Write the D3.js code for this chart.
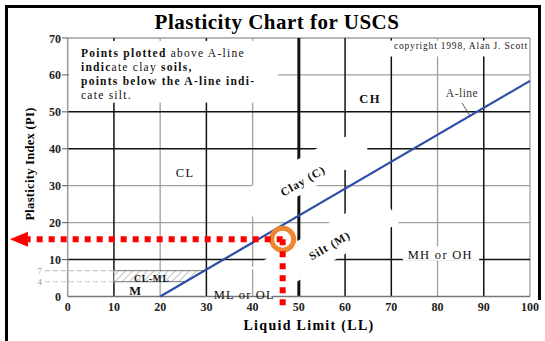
<!DOCTYPE html>
<html><head><meta charset="utf-8">
<script src="https://cdn.jsdelivr.net/npm/d3@7"></script>
<style>
html,body{margin:0;padding:0;background:#fff;}
svg{display:block;}
text{font-family:"Liberation Serif","DejaVu Serif",serif;}
</style></head>
<body>
<svg id="c" width="545" height="341"></svg>
<script>
// ---------- data ----------
const xTicks = [0,10,20,30,40,50,60,70,80,90,100];
const yTicks = [0,10,20,30,40,50,60,70];
const xGridDark = [10,30,50,60,70,90];
const xGridLight = [20,40,80,100];
const yGridDark = [10,40,50];
const yGridLight = [20,30,60,70];
const aLine = [[20,0],[100,58.4]];            // A-line PI = 0.73(LL-20)
const clmlBand = [[10,4],[25.5,4],[29.6,7],[10,7]];
const clmlLimits = [4,7];
const samplePoint = {ll:46.5, pi:15.5};
const arrowEndLL = -12.5, dropEndPI = -3;
const zoneLabels = [
  {t:"CL", ll:25.4, pi:33.2, size:12.5, w:"normal", ls:1.5, rot:0},
  {t:"CH", ll:65.4, pi:53.2, size:12.5, w:"bold", ls:1.5, rot:0},
  {t:"MH or OH", ll:80.6, pi:10.8, size:12.5, w:"normal", ls:1.3, rot:0},
  {t:"ML or OL", ll:38.2, pi:0.2, size:12.5, w:"normal", ls:1.2, rot:0},
  {t:"M", ll:14.6, pi:1.1, size:12.5, w:"bold", ls:0, rot:0},
  {t:"CL-ML", ll:18.2, pi:4.6, size:9.5, w:"bold", ls:0.8, rot:0},
  {t:"Clay (C)", ll:51, pi:31, size:11.5, w:"bold", ls:1, rot:-30},
  {t:"Silt (M)", ll:56.8, pi:13.5, size:11.5, w:"bold", ls:1, rot:-30}
];
const noteLines = [
  [["Points plotted","bold"],[" above A-line","normal"]],
  [["indic","bold"],["ate clay ","normal"],["soils,","bold"]],
  [["points below the A-line indi-","bold"]],
  [["cate silt.","normal"]]
];

// ---------- setup ----------
const svg = d3.select("#c");
const x = d3.scaleLinear().domain([0,100]).range([67.7,530]);
const y = d3.scaleLinear().domain([0,70]).range([296.5,38]);

// outer frame
svg.append("path").attr("d","M6.5,341 L6.5,6.5 L539.5,6.5 L539.5,300")
  .attr("fill","none").attr("stroke","#000").attr("stroke-width",3);

// title
svg.append("text").attr("x",277).attr("y",29).attr("text-anchor","middle")
  .attr("font-size",21).attr("font-weight","bold").attr("letter-spacing",0.5)
  .text("Plasticity Chart for USCS");

const g = svg.append("g");

// grid
g.selectAll(".vl").data(xGridLight).join("line")
  .attr("x1",d=>x(d)).attr("x2",d=>x(d)).attr("y1",y(0)).attr("y2",y(70))
  .attr("stroke","#a0a0a0").attr("stroke-width",1.3);
g.selectAll(".hl").data(yGridLight).join("line")
  .attr("y1",d=>y(d)).attr("y2",d=>y(d)).attr("x1",x(0)).attr("x2",x(100))
  .attr("stroke","#a0a0a0").attr("stroke-width",1.3);
g.selectAll(".vd").data(xGridDark).join("line")
  .attr("x1",d=>x(d)).attr("x2",d=>x(d)).attr("y1",y(0)).attr("y2",y(70))
  .attr("stroke","#111").attr("stroke-width",d=>d===50?3:1.5);
g.selectAll(".hd").data(yGridDark).join("line")
  .attr("y1",d=>y(d)).attr("y2",d=>y(d)).attr("x1",x(0)).attr("x2",x(100))
  .attr("stroke","#111").attr("stroke-width",1.5);
// axes lines
g.append("line").attr("x1",x(0)).attr("x2",x(100)).attr("y1",y(0)).attr("y2",y(0))
  .attr("stroke","#777").attr("stroke-width",1.5);
g.append("line").attr("x1",x(0)).attr("x2",x(0)).attr("y1",y(0)).attr("y2",y(70))
  .attr("stroke","#999").attr("stroke-width",1.5);

// knockouts (white areas behind labels)
function knockRect(ll0,ll1,pi0,pi1){
  g.append("rect").attr("x",x(ll0)).attr("y",y(pi1))
   .attr("width",x(ll1)-x(ll0)).attr("height",y(pi0)-y(pi1)).attr("fill","#fff");
}
function knockRot(ll,pi,w,h,rot){
  g.append("rect").attr("x",-w/2).attr("y",-h/2).attr("width",w).attr("height",h)
   .attr("fill","#fff").attr("transform",`translate(${x(ll)},${y(pi)}) rotate(${rot})`);
}
knockRect(0.3,45.5,52.5,69.2);      // note box
knockRect(67.8,99.7,65,69.3);       // copyright strip
knockRect(56.1,64.8,34.3,43.2);     // gap right of Clay
knockRect(72.5,89,9.7,13.6);        // MH or OH
knockRot(48.2,31,100,32,-30);       // Clay band
knockRot(55.7,13.9,150,35,-30);     // Silt band

// y tick labels and ticks
g.selectAll(".yt").data(yTicks).join("text")
  .attr("x",61).attr("y",d=>y(d)+4.5).attr("text-anchor","end")
  .attr("font-size",12).attr("font-weight","bold").attr("fill","#222").text(d=>d);
g.selectAll(".ytk").data(yTicks.filter(d=>d>0)).join("line")
  .attr("x1",62).attr("x2",x(0)).attr("y1",d=>y(d)).attr("y2",d=>y(d))
  .attr("stroke","#555").attr("stroke-width",1);
// x tick labels
g.selectAll(".xt").data(xTicks).join("text")
  .attr("x",d=>x(d)).attr("y",311).attr("text-anchor","middle")
  .attr("font-size",12).attr("font-weight","bold").attr("fill","#222").text(d=>d);

// CL-ML limit lines
g.selectAll(".lim").data(clmlLimits).join("line")
  .attr("x1",45).attr("x2",x(10)).attr("y1",d=>y(d)).attr("y2",d=>y(d))
  .attr("stroke","#c8c8c8").attr("stroke-width",1.2).attr("stroke-dasharray","5,3");
g.selectAll(".liml").data(clmlLimits).join("text")
  .attr("x",42).attr("y",d=>y(d)+3).attr("text-anchor","end")
  .attr("font-size",9).attr("fill","#999").text(d=>d);

// hatched CL-ML band
const defs = svg.append("defs");
const pat = defs.append("pattern").attr("id","hatch").attr("patternUnits","userSpaceOnUse")
  .attr("width",5).attr("height",5).attr("patternTransform","rotate(45)");
pat.append("rect").attr("width",5).attr("height",5).attr("fill","#fff");
pat.append("line").attr("x1",0).attr("y1",0).attr("x2",0).attr("y2",5)
  .attr("stroke","#888").attr("stroke-width",1);
g.append("path").attr("d",d3.line().x(d=>x(d[0])).y(d=>y(d[1]))(clmlBand)+"Z")
  .attr("fill","url(#hatch)").attr("stroke","#777").attr("stroke-width",1);

// A-line
g.append("path").attr("d",d3.line().x(d=>x(d[0])).y(d=>y(d[1]))(aLine))
  .attr("fill","none").attr("stroke","#2c4ea6").attr("stroke-width",2.2);
g.append("line").attr("x1",x(85.3)).attr("y1",y(52.4)).attr("x2",x(87.1)).attr("y2",y(48.7))
  .attr("stroke","#333").attr("stroke-width",0.8);
g.append("text").attr("x",x(85.3)).attr("y",y(52.4)-6).attr("text-anchor","middle")
  .attr("font-size",11.5).attr("letter-spacing",0.5).attr("fill","#333").text("A-line");

// zone labels
zoneLabels.forEach(d=>{
  g.append("text").attr("text-anchor","middle").attr("dominant-baseline","middle")
   .attr("font-size",d.size).attr("font-weight",d.w).attr("letter-spacing",d.ls)
   .attr("transform",`translate(${x(d.ll)},${y(d.pi)}) rotate(${d.rot})`)
   .attr("fill","#111").text(d.t);
});

// copyright
g.append("text").attr("x",528).attr("y",49).attr("text-anchor","end")
  .attr("font-size",9.5).attr("letter-spacing",0.8).attr("fill","#222")
  .text("copyright 1998, Alan J. Scott");

// note
const note = g.append("text").attr("font-size",11.5).attr("letter-spacing",1.25).attr("fill","#111");
noteLines.forEach((line,i)=>{
  line.forEach((seg,j)=>{
    const ts = note.append("tspan").attr("font-weight",seg[1]).text(seg[0]);
    if(j===0) ts.attr("x",81).attr("y",57+i*14);
  });
});

// axis titles
svg.append("text").attr("transform","translate(34,164) rotate(-90)").attr("text-anchor","middle")
  .attr("font-size",12.5).attr("font-weight","bold").attr("letter-spacing",0.3)
  .text("Plasticity Index (PI)");
svg.append("text").attr("x",309).attr("y",330).attr("text-anchor","middle")
  .attr("font-size",14).attr("font-weight","bold").attr("letter-spacing",1.3).text("Liquid Limit (LL)");

// sample point marker
const px = x(samplePoint.ll), py = y(samplePoint.pi);
svg.append("circle").attr("cx",px).attr("cy",py).attr("r",11)
  .attr("fill","#fff").attr("stroke","#ee8530").attr("stroke-width",5);
svg.append("line").attr("x1",px).attr("x2",x(arrowEndLL)+18).attr("y1",py).attr("y2",py)
  .attr("stroke","#ff0000").attr("stroke-width",6).attr("stroke-dasharray","6,6");
svg.append("line").attr("x1",px).attr("x2",px).attr("y1",py).attr("y2",y(dropEndPI))
  .attr("stroke","#ff0000").attr("stroke-width",6).attr("stroke-dasharray","6,6");
const ax = x(arrowEndLL);
svg.append("path").attr("d",`M${ax},${py} L${ax+18},${py-7.5} L${ax+18},${py+7.5} Z`)
  .attr("fill","#ff0000");
</script>
</body></html>
